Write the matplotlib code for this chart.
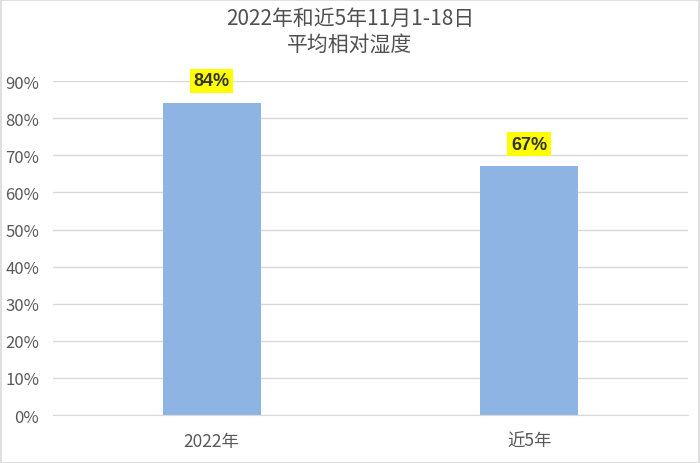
import matplotlib.pyplot as plt
from matplotlib.patches import Rectangle

plt.rcParams['font.family'] = ['Liberation Sans Narrow', 'Noto Sans CJK SC', 'DejaVu Sans']

# ── Data ───────────────────────────────────────────────
categories = ["2022年", "近5年"]
humidity = [0.84, 0.67]
y_ticks = [0.0, 0.1, 0.2, 0.3, 0.4, 0.5, 0.6, 0.7, 0.8, 0.9]

bar_color = '#8EB4E3'
text_color = '#595959'
grid_color = '#D9D9D9'

fig = plt.figure(figsize=(7, 4.64), dpi=100)
fig.patches.append(Rectangle((0.001, 0.001), 0.997, 0.997, transform=fig.transFigure,
                             fill=False, edgecolor='#D9D9D9', linewidth=1.2))
ax = fig.add_axes([0.0757, 0.1034, 0.907, 0.7196])

x = range(len(categories))
bars = ax.bar(x, humidity, width=0.31, color=bar_color, zorder=2)

ax.set_xlim(-0.5, 1.5)
ax.set_ylim(0, 0.9)
ax.set_yticks(y_ticks)
ax.set_yticklabels([f"{int(round(t * 100))}%" for t in y_ticks])
ax.set_xticks(list(x))
ax.set_xticklabels(categories)
ax.tick_params(axis='both', length=0, labelsize=12, colors=text_color)
ax.tick_params(axis='x', pad=12, labelsize=12.5)
ax.tick_params(axis='y', pad=10)

ax.grid(axis='y', color=grid_color, linewidth=1, zorder=0)
for side in ['top', 'right', 'left']:
    ax.spines[side].set_visible(False)
ax.spines['bottom'].set_color(grid_color)

for b, v in zip(bars, humidity):
    ax.annotate(f"{int(round(v * 100))}%", (b.get_x() + b.get_width() / 2, v),
                xytext=(0, 10), textcoords='offset points', ha='center', va='bottom',
                fontsize=13, fontweight='bold', color='#333333',
                family=['Liberation Sans', 'DejaVu Sans'],
                bbox=dict(boxstyle='square,pad=0.2', facecolor='#FFFF00', edgecolor='none'))

fig.text(0.5, 0.982, "2022年和近5年11月1-18日\n平均相对湿度", ha='center', va='top',
         fontsize=15, color='#505050', linespacing=1.2,
         family=['Noto Sans CJK SC', 'DejaVu Sans'])

fig.savefig('out.png', dpi=100, facecolor='white')
